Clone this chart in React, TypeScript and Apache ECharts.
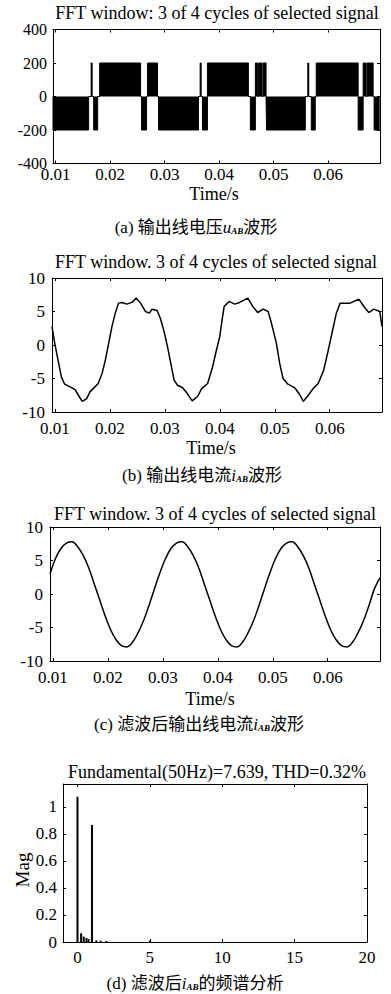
import React, { useEffect, useRef } from 'react';
import * as echarts from 'echarts';

// ---------- data ----------
// (a) output line voltage u_AB: PWM switching blocks (start, end, level)
const uStart = [0.0095, 0.0165, 0.01696, 0.01806, 0.02575, 0.02685, 0.02886, 0.0365, 0.03692, 0.03784, 0.04571, 0.04663, 0.04723, 0.04804, 0.04868, 0.05625, 0.05689, 0.0578, 0.06549, 0.06641, 0.06714, 0.06842];
const uEnd = [0.01604, 0.01668, 0.01769, 0.02557, 0.02667, 0.02868, 0.03619, 0.03668, 0.03784, 0.04535, 0.04663, 0.04705, 0.04786, 0.04859, 0.05579, 0.05643, 0.05762, 0.06549, 0.06641, 0.06696, 0.06824, 0.06934];
const uLevel = [-200, 200, -200, 200, -200, 200, -200, 200, -200, 200, -200, 200, 200, 200, -200, 200, -200, 200, -200, 200, 200, -200];

// (b) output line current i_AB
const bTime = [0.0095, 0.0100, 0.0106, 0.0112, 0.0118, 0.0128, 0.0137, 0.0143, 0.0150, 0.0158, 0.0164, 0.0173, 0.0179, 0.0186, 0.0192, 0.0198, 0.0204, 0.0210, 0.0216, 0.0222, 0.0231, 0.0241, 0.0248, 0.0256, 0.0265, 0.0272, 0.0277, 0.0286, 0.0292, 0.0298, 0.0305, 0.0311, 0.0317, 0.0323, 0.0332, 0.0341, 0.0350, 0.0360, 0.0367, 0.0378, 0.0387, 0.0394, 0.0400, 0.0404, 0.0408, 0.0417, 0.0427, 0.0436, 0.0451, 0.0460, 0.0469, 0.0479, 0.0488, 0.0494, 0.0503, 0.0509, 0.0515, 0.0524, 0.0536, 0.0545, 0.0552, 0.0561, 0.0570, 0.0579, 0.0589, 0.0596, 0.0604, 0.0612, 0.0619, 0.0628, 0.0637, 0.0653, 0.0662, 0.0671, 0.0680, 0.0691, 0.0695];
const bValue = [2.75, 0.25, -2.25, -4.75, -5.85, -6.25, -6.65, -7.5, -8.4, -8.0, -7.0, -6.25, -5.75, -4.25, -2.25, 0.25, 2.75, 4.75, 6.25, 6.35, 6.1, 6.4, 7.0, 6.25, 5.0, 4.75, 5.35, 5.15, 4.0, 2.25, -0.25, -2.75, -5.25, -6.0, -6.35, -7.25, -8.35, -7.65, -6.5, -5.75, -3.25, -0.75, 1.25, 3.6, 5.75, 6.5, 6.1, 6.35, 7.0, 5.75, 4.85, 5.35, 5.0, 3.25, 0.25, -2.75, -5.0, -5.85, -6.35, -7.35, -8.4, -7.5, -6.5, -5.75, -3.75, -1.25, 1.75, 4.75, 6.25, 6.25, 6.25, 6.85, 5.75, 4.85, 5.35, 5.0, 2.75];

// (c) filtered output line current i_AB
const cTime = [0.0095, 0.0105, 0.0115, 0.0125, 0.0135, 0.0145, 0.0155, 0.0165, 0.0175, 0.0185, 0.0195, 0.0205, 0.0215, 0.0225, 0.0235, 0.0245, 0.0255, 0.0265, 0.0275, 0.0285, 0.0295, 0.0305, 0.0315, 0.0325, 0.0335, 0.0345, 0.0355, 0.0365, 0.0375, 0.0385, 0.0395, 0.0405, 0.0415, 0.0425, 0.0435, 0.0445, 0.0455, 0.0465, 0.0475, 0.0485, 0.0495, 0.0505, 0.0515, 0.0525, 0.0535, 0.0545, 0.0555, 0.0565, 0.0575, 0.0585, 0.0595, 0.0605, 0.0615, 0.0625, 0.0635, 0.0645, 0.0655, 0.0665, 0.0675, 0.0685, 0.0695];
const cValue = [3.0, 5.3, 6.8, 7.6, 7.8, 7.1, 5.8, 4.0, 1.6, -0.8, -3.2, -5.3, -6.8, -7.7, -7.9, -7.2, -5.8, -4.0, -1.7, 0.8, 3.2, 5.3, 6.8, 7.6, 7.8, 7.1, 5.8, 4.0, 1.6, -0.8, -3.2, -5.3, -6.8, -7.7, -7.9, -7.2, -5.8, -4.0, -1.7, 0.8, 3.2, 5.3, 6.8, 7.6, 7.8, 7.1, 5.8, 4.0, 1.6, -0.8, -3.2, -5.3, -6.8, -7.7, -7.9, -7.2, -5.8, -4.0, -1.7, 0.8, 2.4];

// (d) spectrum
const dHarm = [0, 0.25, 0.43, 0.62, 0.77, 1, 1.3, 1.6, 2, 5];
const dMag = [1.076, 0.064, 0.04, 0.03, 0.022, 0.867, 0.012, 0.01, 0.008, 0.01];

const timeTicks = [0.01, 0.02, 0.03, 0.04, 0.05, 0.06];
const harmTicks = [0, 5, 10, 15, 20];
const magTicks = [0, 0.2, 0.4, 0.6, 0.8, 1];

const FONT = '"Liberation Serif", "Times New Roman", "Noto Sans CJK SC", serif';

export default function App() {
  const ref = useRef<HTMLDivElement>(null);
  useEffect(() => {
    if (!ref.current) return;
    const chart = echarts.init(ref.current, undefined, { renderer: 'svg' });

    const uData: number[][] = [];
    for (let i = 0; i < uStart.length; i++) {
      uData.push([uStart[i], 0], [uStart[i], uLevel[i]], [uEnd[i], uLevel[i]], [uEnd[i], 0]);
    }

    const grids = [
      { left: 53, top: 29.5, width: 327, height: 134 },
      { left: 52, top: 278, width: 330, height: 134 },
      { left: 50, top: 527, width: 330, height: 134 },
      { left: 63, top: 784, width: 304, height: 158 },
    ];

    const lbl = { fontFamily: FONT, fontSize: 17, color: '#000' };
    const axLine = { show: true, onZero: false, lineStyle: { color: '#000', width: 1 } };
    const tick = (vals: number[]) => ({ show: true, inside: true, length: 3, customValues: vals, lineStyle: { color: '#000' } });

    const xSpecs = [
      { min: 0.0095, max: 0.0695, vals: timeTicks, margin: 5, lh: 12 },
      { min: 0.0095, max: 0.0695, vals: timeTicks, margin: 8, lh: 17 },
      { min: 0.0095, max: 0.0695, vals: timeTicks, margin: 8, lh: 17 },
      { min: -1, max: 20, vals: harmTicks, margin: 7, lh: 17 },
    ];
    const ySpecs = [
      { min: -400, max: 400, vals: [-400, -200, 0, 200, 400], margin: 6, lh: 10, fs: 16 },
      { min: -10, max: 10, vals: [-10, -5, 0, 5, 10], margin: 7, lh: 17, fs: 17 },
      { min: -10, max: 10, vals: [-10, -5, 0, 5, 10], margin: 7, lh: 17, fs: 17 },
      { min: 0, max: 1.17, vals: magTicks, margin: 6, lh: 17, fs: 17 },
    ];

    const xAxis: any[] = [];
    const yAxis: any[] = [];
    xSpecs.forEach((s, i) => {
      xAxis.push({
        type: 'value', gridIndex: i, position: 'bottom', min: s.min, max: s.max,
        axisLine: axLine, axisTick: tick(s.vals), splitLine: { show: false },
        axisLabel: { ...lbl, lineHeight: s.lh, margin: s.margin, customValues: s.vals, formatter: (v: number) => String(+v.toFixed(2)) },
      });
      xAxis.push({
        type: 'value', gridIndex: i, position: 'top', min: s.min, max: s.max,
        axisLine: axLine, axisTick: tick(s.vals), splitLine: { show: false }, axisLabel: { show: false },
      });
    });
    ySpecs.forEach((s, i) => {
      yAxis.push({
        type: 'value', gridIndex: i, position: 'left', min: s.min, max: s.max,
        axisLine: axLine, axisTick: tick(s.vals), splitLine: { show: false },
        axisLabel: { ...lbl, fontSize: s.fs, lineHeight: s.lh, margin: s.margin, customValues: s.vals, formatter: (v: number) => String(+v.toFixed(2)) },
      });
      yAxis.push({
        type: 'value', gridIndex: i, position: 'right', min: s.min, max: s.max,
        axisLine: axLine, axisTick: tick(s.vals), splitLine: { show: false }, axisLabel: { show: false },
      });
    });

    const txt = (x: number, y: number, text: string, size = 18, extra: any = {}) => ({
      type: 'text', x, y, ...extra,
      style: { text, fontFamily: FONT, fontSize: size, fill: '#000', align: 'center', verticalAlign: 'middle', textAlign: 'center', textVerticalAlign: 'middle' },
    });
    const rich = {
      t: { fontFamily: FONT, fontSize: 17, fill: '#000' },
      u: { fontFamily: FONT, fontSize: 17, fontStyle: 'italic', fill: '#000' },
      s: { fontFamily: FONT, fontSize: 9, fontStyle: 'italic', fontWeight: 'bold', fill: '#000', verticalAlign: 'bottom', padding: [6, 0, 0, 0] },
    };
    const cap = (x: number, y: number, text: string) => ({
      type: 'text', x, y,
      style: { text, rich, fontFamily: FONT, fontSize: 17, fill: '#000', align: 'center', verticalAlign: 'middle', textAlign: 'center', textVerticalAlign: 'middle' },
    });

    chart.setOption({
      animation: false,
      backgroundColor: '#fff',
      grid: grids.map(g => ({ ...g, containLabel: false })),
      xAxis, yAxis,
      series: [
        {
          type: 'line', xAxisIndex: 0, yAxisIndex: 0, data: uData, showSymbol: false,
          lineStyle: { color: '#000', width: 1 }, areaStyle: { color: '#000', opacity: 1 },
        },
        {
          type: 'line', xAxisIndex: 2, yAxisIndex: 2, data: bTime.map((t, i) => [t, bValue[i]]),
          showSymbol: false, lineStyle: { color: '#000', width: 1.5 },
        },
        {
          type: 'line', xAxisIndex: 4, yAxisIndex: 4, data: cTime.map((t, i) => [t, cValue[i]]),
          showSymbol: false, smooth: 0.4, lineStyle: { color: '#000', width: 1.5 },
        },
        {
          type: 'bar', xAxisIndex: 6, yAxisIndex: 6, data: dHarm.map((h, i) => [h, dMag[i]]),
          barWidth: 2, itemStyle: { color: '#000' },
        },
      ],
      graphic: [
        txt(217, 13, 'FFT window: 3 of 4 cycles of selected signal', 18),
        txt(214, 194, 'Time/s'),
        cap(196, 227, '{t|(a) 输出线电压}{u|u}{s|AB}{t|波形}'),
        txt(216, 262, 'FFT window. 3 of 4 cycles of selected signal', 18),
        txt(211, 448, 'Time/s'),
        cap(202, 475, '{t|(b) 输出线电流}{u|i}{s|AB}{t|波形}'),
        txt(215, 514, 'FFT window. 3 of 4 cycles of selected signal', 18),
        txt(210, 699, 'Time/s'),
        cap(199, 724, '{t|(c) 滤波后输出线电流}{u|i}{s|AB}{t|波形}'),
        txt(217, 772, 'Fundamental(50Hz)=7.639, THD=0.32%', 18),
        txt(22, 870, 'Mag', 19, { rotation: Math.PI / 2 }),
        cap(195, 983, '{t|(d) 滤波后}{u|i}{s|AB}{t|的频谱分析}'),
      ],
    });
    return () => chart.dispose();
  }, []);
  return <div ref={ref} style={{ position: 'absolute', left: 0, top: 0, width: 391, height: 994, background: '#fff' }} />;
}
